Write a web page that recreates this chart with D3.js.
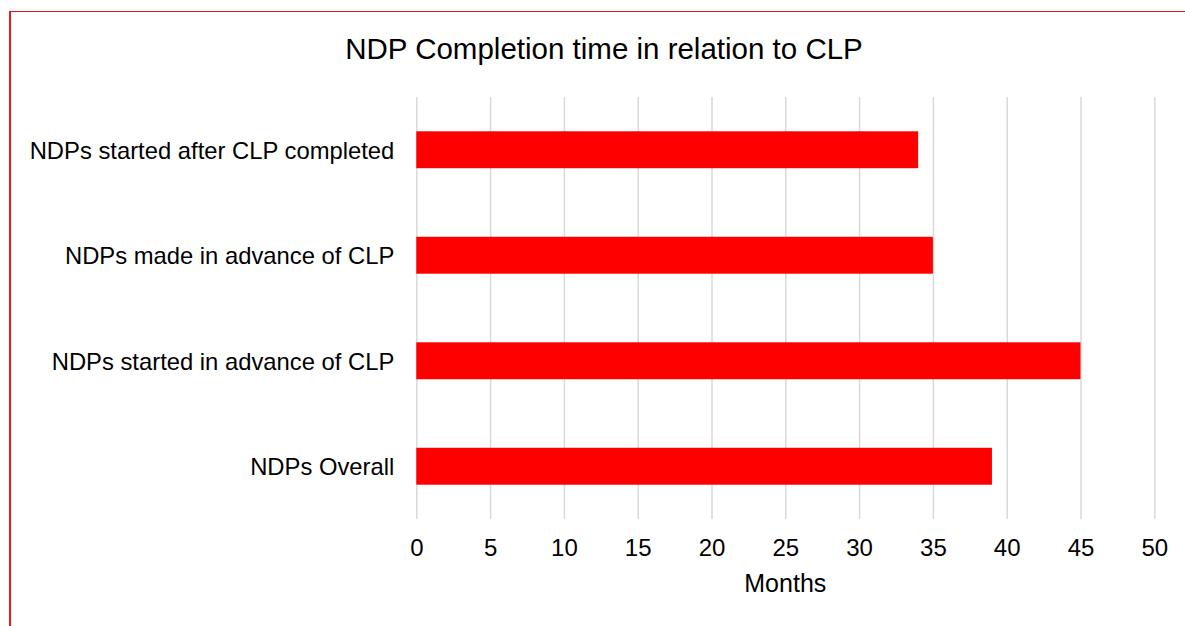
<!DOCTYPE html>
<html>
<head>
<meta charset="utf-8">
<script src="https://cdn.jsdelivr.net/npm/d3@7"></script>
<style>
  html, body { margin: 0; padding: 0; background: #fff; }
  svg { display: block; font-family: "Liberation Sans", Arial, sans-serif; }
</style>
</head>
<body>
<svg id="chart" width="1185" height="626"></svg>
<script>
// chart data
var categories = [
  "NDPs started after CLP completed",
  "NDPs made in advance of CLP",
  "NDPs started in advance of CLP",
  "NDPs Overall"
];
var months = [34, 35, 45, 39];
var xTicks = [0, 5, 10, 15, 20, 25, 30, 35, 40, 45, 50];
var chartTitle = "NDP Completion time in relation to CLP";
var xTitle = "Months";

var svg = d3.select("#chart");

// red frame (top + left edges)
svg.append("line")
  .attr("x1", 9).attr("x2", 1185)
  .attr("y1", 11.5).attr("y2", 11.5)
  .attr("stroke", "#e8141b").attr("stroke-width", 1.2);
svg.append("line")
  .attr("x1", 10).attr("x2", 10)
  .attr("y1", 11).attr("y2", 626)
  .attr("stroke", "#f0141b").attr("stroke-width", 2);

var plotLeft = 416.3, plotRight = 1154.3, plotTop = 97, plotBottom = 519;

var x = d3.scaleLinear().domain([0, 50]).range([plotLeft, plotRight]);
var y = d3.scaleBand().domain(categories).range([plotTop, plotBottom]).paddingInner(0.65).paddingOuter(0.325);

// gridlines + tick labels
var xAxis = svg.append("g")
  .attr("transform", "translate(0," + plotBottom + ")")
  .call(d3.axisBottom(x).tickValues(xTicks).tickSizeInner(-(plotBottom - plotTop)).tickSizeOuter(0).tickPadding(20));
xAxis.select(".domain").remove();
xAxis.selectAll(".tick line").attr("stroke", "#d9d9d9").attr("stroke-width", 1.5);
xAxis.selectAll(".tick text")
  .attr("y", 20)
  .attr("fill", "#000")
  .style("font-size", "24px")
  .style("font-family", "'Liberation Sans', Arial, sans-serif");

// bars
svg.append("g").selectAll("rect")
  .data(months)
  .join("rect")
  .attr("x", x(0))
  .attr("y", function(d, i) { return y(categories[i]); })
  .attr("width", function(d) { return x(d) - x(0); })
  .attr("height", y.bandwidth())
  .attr("fill", "#ff0000");

// category labels
var yAxis = svg.append("g")
  .attr("transform", "translate(" + plotLeft + ",0)")
  .call(d3.axisLeft(y).tickSize(0).tickPadding(22));
yAxis.select(".domain").remove();
yAxis.selectAll(".tick text")
  .attr("fill", "#000")
  .attr("dy", "0.38em")
  .style("font-size", "23.8px")
  .style("font-family", "'Liberation Sans', Arial, sans-serif");

// title
svg.append("text")
  .attr("x", 604)
  .attr("y", 59)
  .attr("text-anchor", "middle")
  .style("font-size", "29.5px")
  .attr("fill", "#000")
  .text(chartTitle);

// axis title
svg.append("text")
  .attr("x", (plotLeft + plotRight) / 2)
  .attr("y", 592)
  .attr("text-anchor", "middle")
  .style("font-size", "25px")
  .attr("fill", "#000")
  .text(xTitle);
</script>
</body>
</html>
